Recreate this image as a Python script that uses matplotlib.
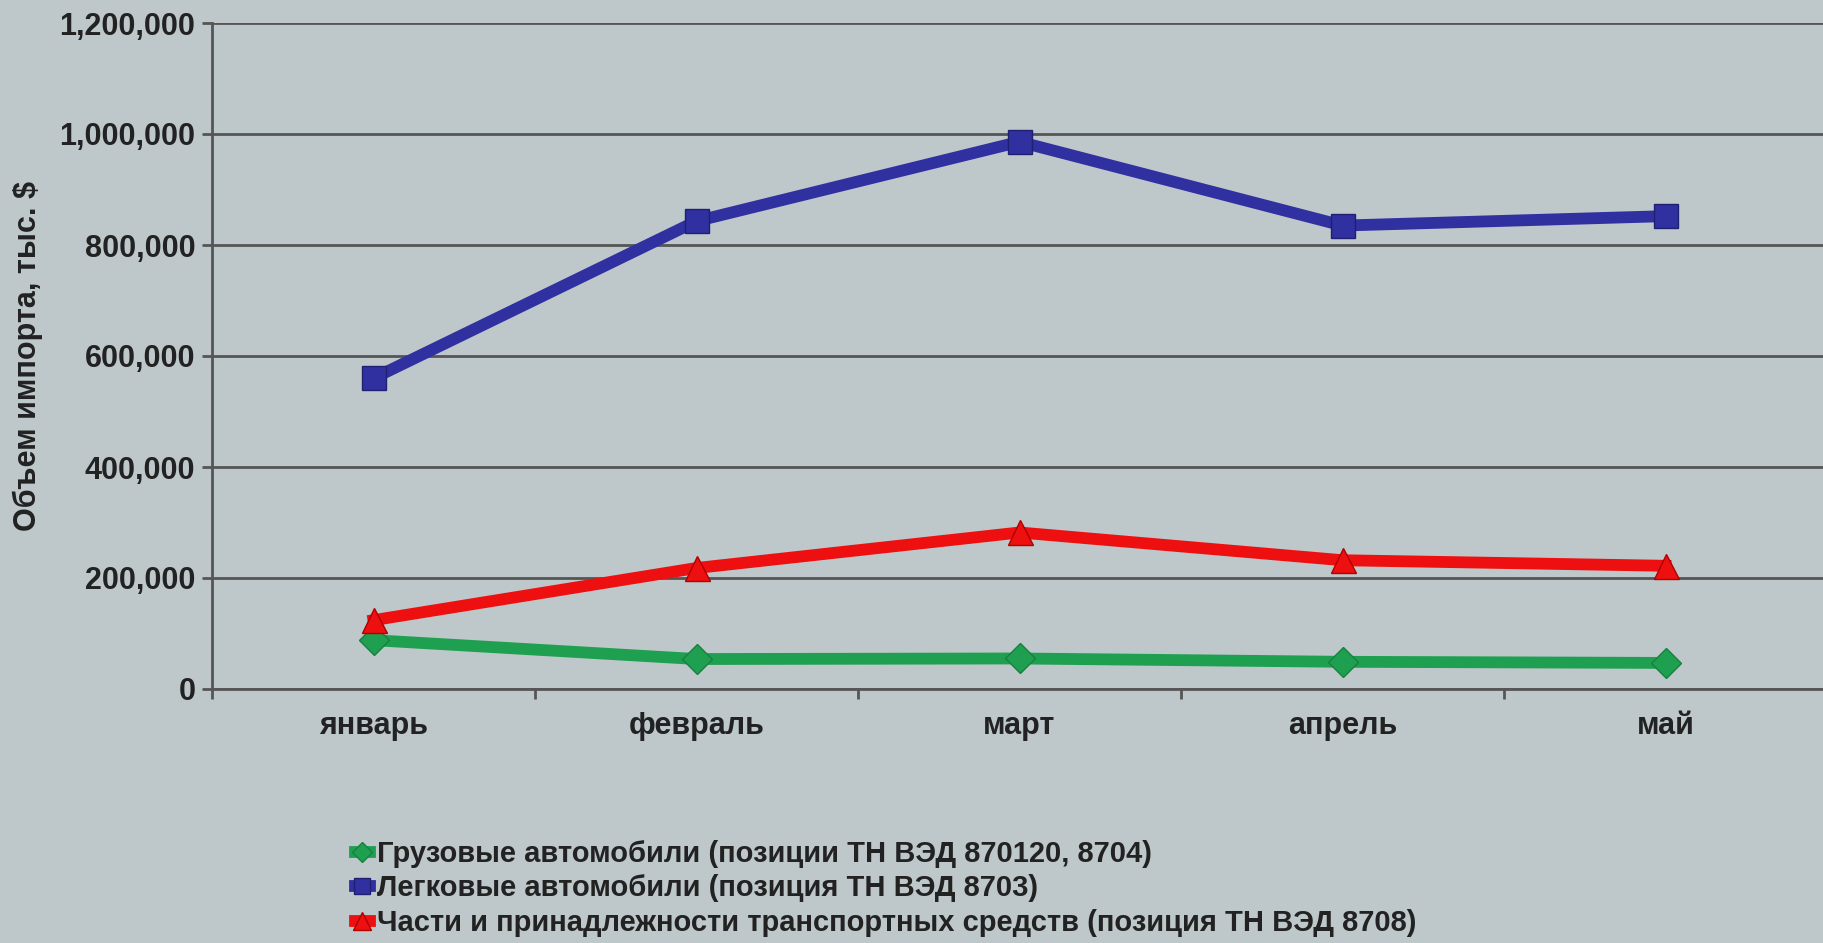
import numpy as np
import matplotlib.pyplot as plt
from matplotlib.ticker import FuncFormatter

# Data
months = ['январь', 'февраль', 'март', 'апрель', 'май']
trucks = [88000, 54000, 55000, 49000, 47000]
cars = [560000, 843000, 986000, 835000, 852000]
parts = [124000, 218000, 282000, 232000, 222000]
labels = ['Грузовые автомобили (позиции ТН ВЭД 870120, 8704)',
          'Легковые автомобили (позиция ТН ВЭД 8703)',
          'Части и принадлежности транспортных средств (позиция ТН ВЭД 8708)']

bg = '#bec8ca'
plt.rcParams['font.family'] = ['Liberation Sans', 'DejaVu Sans']

fig = plt.figure(figsize=(18.24, 9.43), dpi=100, facecolor=bg)
ax = fig.add_axes([212 / 1824, 1 - 689 / 943, (1827 - 212) / 1824, (689 - 23) / 943])
ax.set_facecolor(bg)

x = np.arange(len(months))
ax.plot(x, trucks, color='#1fa050', lw=8.5, marker='D', ms=15, mec='#168040', mew=1,
        label=labels[0], zorder=3)
ax.plot(x, cars, color='#3030a0', lw=8.5, marker='s', ms=17, mec='#202070', mew=1,
        label=labels[1], zorder=3)
ax.plot(x, parts, color='#ee1010', lw=8.5, marker='^', ms=18, mec='#b00000', mew=1,
        label=labels[2], zorder=3)

ax.set_xlim(-0.5, 4.5)
ax.set_ylim(0, 1200000)
ax.set_yticks(np.arange(0, 1200001, 200000))
ax.yaxis.set_major_formatter(FuncFormatter(lambda v, p: f'{int(v):,}'))
ax.set_xticks(x)
ax.set_xticklabels(months)
ax.set_xticks(np.arange(-0.5, 4.6, 1), minor=True)
ax.tick_params(axis='x', which='major', length=0, pad=16, labelsize=22, labelcolor='#222222')
ax.tick_params(axis='x', which='minor', length=7, width=2, color='#555555', direction='out')
ax.tick_params(axis='y', length=7, width=2, color='#555555', pad=5, labelsize=22,
               labelcolor='#222222')
for t in ax.get_xticklabels() + ax.get_yticklabels():
    t.set_fontweight('bold')

ax.grid(axis='y', color='#555555', lw=2)
for s in ['top', 'right']:
    ax.spines[s].set_visible(False)
for s in ['left', 'bottom']:
    ax.spines[s].set_color('#555555')
    ax.spines[s].set_linewidth(2)

ax.set_ylabel('Объем импорта, тыс. $', fontsize=22, fontweight='bold', color='#222222',
              labelpad=12)

leg = fig.legend(loc='upper left', bbox_to_anchor=(355 / 1824, 1 - 840 / 943), frameon=False,
                 prop={'size': 21, 'weight': 'bold'}, handlelength=0.5, handletextpad=0.25,
                 labelspacing=0.22, borderaxespad=0, borderpad=0, markerscale=0.7)
for t in leg.get_texts():
    t.set_color('#222222')

fig.savefig('out.png', dpi=100, facecolor=bg)
